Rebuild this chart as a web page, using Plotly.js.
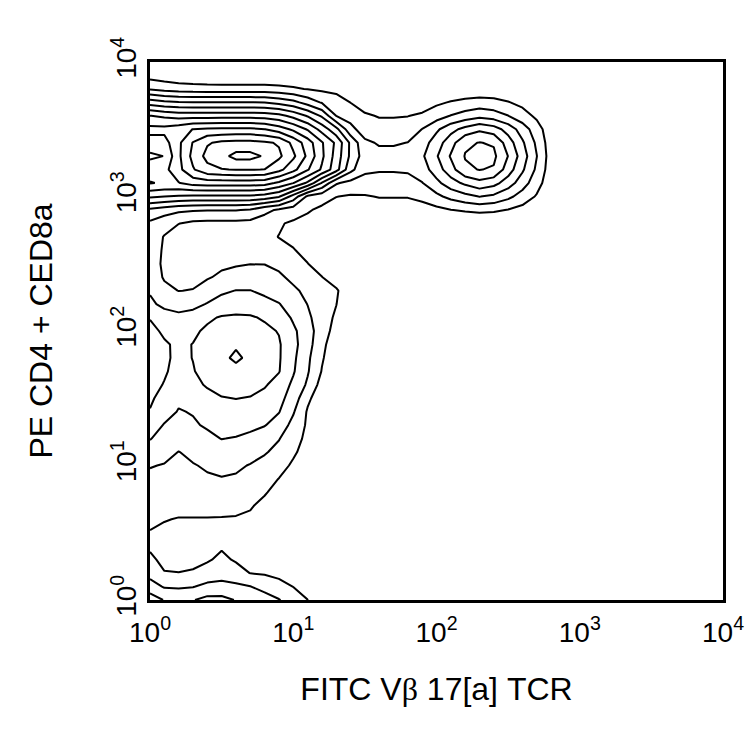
<!DOCTYPE html>
<html><head><meta charset="utf-8">
<script src="https://cdn.plot.ly/plotly-3.0.1.min.js"></script>
<style>html,body{margin:0;padding:0;background:#fff}</style>
</head><body><div id="chart" style="width:750px;height:750px"></div>
<script>
// log10 positions of the grid columns (FITC) and rows (PE)
const logX = [0,0.1,0.2,0.3,0.4,0.5,0.6,0.7,0.8,0.9,1.0,1.1,1.2,1.3,1.4,1.5,1.6,1.7,1.8,1.9,2.0,2.1,2.2,2.3,2.4,2.5,2.6,2.7,2.8,2.9,3.0,4.0];
const logY = [0,0.1,0.2,0.3,0.4,0.5,0.6,0.7,0.8,0.9,1.0,1.1,1.2,1.3,1.4,1.5,1.6,1.7,1.8,1.9,2.0,2.1,2.2,2.3,2.4,2.5,2.6,2.7,2.8,2.9,3.0,3.1,3.2,3.3,3.4,3.5,3.6,3.7,3.8,3.9,4.0];
const tickPositions = [0,1,2,3,4];
const tickLabels = ['10<sup>0</sup>','10<sup>1</sup>','10<sup>2</sup>','10<sup>3</sup>','10<sup>4</sup>'];
const xTitle = 'FITC V<span style="font-family:\'Liberation Serif\'">β</span> 17[a] TCR';
const yTitle = 'PE CD4 + CED8a';
const levelStart = 1, levelEnd = 12, levelStep = 1;

// density level read at each grid node (row = PE decade position, trailing zeros omitted)
const densityRows = [
/*0.0*/[3.5,2.95,2.9,2.95,3.3,3.3,2.95,2.7,2.4,2.05,1.6,1.02,0.5,0.2],
/*0.1*/[2.5,1.9,1.85,1.95,2.25,2.3,2.2,2.02,1.7,1.4,0.98,0.4,0.1],
/*0.2*/[1.6,1.05,1.02,1.1,1.4,1.6,1.4,0.98,0.9,0.7,0.3,0.05],
/*0.3*/[1.2,0.75,0.7,0.75,0.9,1.2,0.9,0.6,0.45,0.3,0.1],
/*0.4*/[0.85,0.6,0.55,0.6,0.7,0.9,0.7,0.55,0.45,0.35,0.2,0.05],
/*0.5*/[0.95,0.8,0.75,0.75,0.75,0.72,0.7,0.62,0.55,0.45,0.3,0.15,0.05],
/*0.6*/[1.2,1.05,0.95,0.95,0.95,0.95,0.95,0.9,0.75,0.55,0.35,0.2,0.05],
/*0.7*/[1.4,1.35,1.3,1.3,1.3,1.25,1.15,1.05,0.85,0.65,0.45,0.25,0.1],
/*0.8*/[1.6,1.6,1.6,1.6,1.65,1.65,1.6,1.35,1.05,0.8,0.55,0.3,0.1],
/*0.9*/[1.8,1.8,1.75,1.8,1.9,1.95,1.9,1.7,1.35,0.98,0.7,0.4,0.15],
/*1.0*/[2.05,1.95,1.85,1.95,2.1,2.25,2.15,1.95,1.65,1.35,0.85,0.5,0.2],
/*1.1*/[2.6,2.3,1.98,2.2,2.4,2.6,2.55,2.35,2.1,1.7,1.15,0.6,0.25],
/*1.2*/[3.05,2.6,2.4,2.55,2.8,3.02,2.95,2.8,2.45,2.05,1.4,0.75,0.3],
/*1.3*/[3.4,2.95,2.75,2.9,3.1,3.3,3.3,3.2,3.05,2.55,1.7,0.85,0.35],
/*1.4*/[3.95,3.3,2.95,3.05,3.4,3.6,3.65,3.6,3.35,3.05,2.1,0.9,0.35],
/*1.5*/[4.15,3.65,3.15,3.35,3.7,3.95,4.02,3.95,3.7,3.3,2.55,1.2,0.4],
/*1.6*/[4.3,3.95,3.5,3.75,4.1,4.35,4.45,4.35,4.1,3.6,2.8,1.85,0.6],
/*1.7*/[4.4,4.1,3.7,3.95,4.3,4.6,4.8,4.65,4.35,4.05,3.1,2.1,0.95,0.3],
/*1.8*/[4.5,4.15,3.8,4.02,4.4,4.85,5.12,4.85,4.45,4.1,3.2,2.2,1.1,0.35],
/*1.9*/[4.5,4.1,3.85,4.02,4.35,4.65,4.92,4.7,4.4,4.1,3.3,2.4,1.25,0.4],
/*2.0*/[4.25,3.85,3.6,3.85,4.15,4.35,4.5,4.4,4.2,3.95,3.2,2.4,1.5,0.6],
/*2.1*/[3.95,3.45,3.25,3.35,3.85,4.08,4.15,4.1,3.9,3.6,2.85,2.2,1.45,0.85,0.2],
/*2.2*/[3.2,2.75,2.6,2.75,3.05,3.35,3.5,3.5,3.3,3.05,2.5,1.98,1.5,1.02,0.3],
/*2.3*/[2.9,2.25,1.98,2.05,2.5,2.85,3.02,3.02,2.8,2.5,2.15,1.8,1.4,1.1,0.45],
/*2.4*/[2.6,1.9,1.6,1.65,1.9,2.2,2.4,2.45,2.35,2.15,1.8,1.4,1.02,0.6,0.2],
/*2.5*/[2.4,1.85,1.5,1.45,1.6,1.8,1.9,1.98,1.98,1.8,1.4,1.02,0.6,0.3],
/*2.6*/[2.4,1.9,1.55,1.4,1.4,1.5,1.55,1.55,1.45,1.25,1.05,0.75,0.45,0.2],
/*2.7*/[2.5,1.95,1.6,1.45,1.4,1.4,1.4,1.35,1.2,0.98,0.8,0.55,0.35,0.15],
/*2.8*/[2.8,2.35,2.02,1.8,1.75,1.75,1.75,1.7,1.45,1.1,0.85,0.7,0.45,0.2],
/*2.9*/[3.8,3.5,3.2,3.1,3.05,3.05,3.05,2.9,2.3,1.85,1.5,1.1,0.8,0.6,0.45,0.45,0.5,0.5,0.55,0.6,0.74,0.97,1.14,1.27,1.18,0.95,0.67,0.38,0.1],
/*3.0*/[6.2,6.0,5.9,5.8,5.8,5.8,5.8,5.8,5.6,5.1,3.6,1.8,1.4,1.02,0.9,0.92,1.05,1.05,1.05,1.26,1.76,2.3,2.7,3.02,2.79,2.25,1.58,0.9,0.23],
/*3.1*/[8.05,7.9,7.95,8.4,8.5,8.5,8.5,8.5,8.4,7.8,7.02,5.8,3.9,2.1,1.7,1.6,1.55,1.55,1.6,1.96,2.73,3.57,4.2,4.69,4.34,3.5,2.45,1.4,0.35],
/*3.2*/[7.6,7.7,8.7,9.9,10.7,10.95,11.05,11.05,10.98,10.3,9.3,8.1,6.85,5.4,3.3,2.2,2.1,2.1,2.15,2.52,3.51,4.59,5.85,6.03,5.9,4.5,3.15,1.8,0.45],
/*3.3*/[6.8,7.02,8.8,10.3,11.3,11.7,12.3,12.3,11.9,11.2,10.2,8.8,7.2,5.6,3.8,2.5,2.3,2.3,2.45,2.85,3.9,5.1,6.05,6.7,6.2,4.98,3.5,2.02,0.5],
/*3.4*/[7.6,7.6,8.8,10.05,10.9,11.2,11.3,11.3,11.15,10.9,9.7,8.5,7.1,5.8,3.8,2.2,1.9,1.9,2.02,2.52,3.51,4.59,5.85,6.03,5.9,4.5,3.15,1.8,0.45],
/*3.5*/[8.3,8.3,8.6,9.02,9.15,9.2,9.2,9.2,9.02,8.5,7.8,6.9,5.6,4.3,2.3,1.5,1.3,1.3,1.44,2.02,2.81,3.67,4.32,4.82,4.46,3.6,2.52,1.44,0.36],
/*3.6*/[7.02,6.8,6.6,6.6,6.6,6.6,6.6,6.6,6.55,6.3,5.7,4.9,3.85,1.98,1.6,1.1,0.95,0.95,0.98,1.12,1.56,2.04,2.4,2.68,2.48,2.02,1.4,0.8,0.2],
/*3.7*/[4.5,4.2,4.05,4.02,4.02,4.02,4.02,4.02,3.95,3.7,3.3,2.6,1.9,1.5,0.98,0.65,0.5,0.45,0.45,0.6,0.82,1.07,1.26,1.41,1.3,1.05,0.74,0.42,0.1],
/*3.8*/[1.9,1.65,1.5,1.45,1.4,1.4,1.4,1.4,1.4,1.3,1.15,0.95,0.8,0.7,0.45,0.3,0.2,0.2,0.2,0.2,0.2,0.25,0.3,0.3,0.3,0.2,0.1,0.05],
/*3.9*/[0.6,0.45,0.3,0.2,0.15,0.12,0.1,0.1,0.1,0.1,0.1,0.1,0.1,0.05],
/*4.0*/[]
];

const zGrid = densityRows.map(function(row){
  const full = row.slice();
  while (full.length < logX.length) full.push(0);
  return full;
});

const font = 'Liberation Sans, Arial, sans-serif';
const trace = {
  type: 'contour',
  x: logX, y: logY, z: zGrid,
  autocontour: false,
  contours: {start: levelStart, end: levelEnd, size: levelStep, coloring: 'none'},
  line: {color: '#000', width: 2, smoothing: 0},
  showscale: false, hoverinfo: 'skip'
};
const axisBase = {
  range: [0, 4], tickvals: tickPositions, ticktext: tickLabels,
  showgrid: false, zeroline: false, ticks: '',
  showline: true, mirror: true, linecolor: '#000', linewidth: 3,
  tickfont: {family: font, size: 28, color: '#000'}
};
const layout = {
  width: 750, height: 750,
  margin: {l: 150, r: 27, t: 62, b: 150},
  paper_bgcolor: '#fff', plot_bgcolor: '#fff',
  showlegend: false,
  xaxis: Object.assign({}, axisBase, {ticklabelstandoff: 5, title: {text: xTitle, font: {family: font, size: 32, color: '#000'}, standoff: 32}}),
  yaxis: Object.assign({}, axisBase, {tickangle: -90, title: {text: yTitle, font: {family: font, size: 32, color: '#000'}, standoff: 44}})
};
Plotly.newPlot('chart', [trace], layout, {displayModeBar: false, staticPlot: true});
</script></body></html>
